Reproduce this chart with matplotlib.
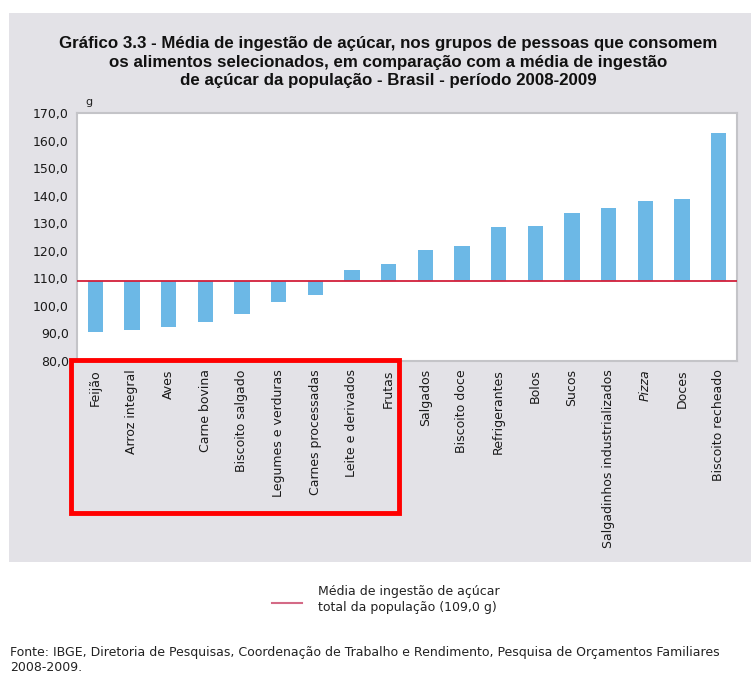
import matplotlib.pyplot as plt
from matplotlib.patches import Rectangle
from matplotlib.lines import Line2D

# dados
alimentos = ["Feijão", "Arroz integral", "Aves", "Carne bovina", "Biscoito salgado",
             "Legumes e verduras", "Carnes processadas", "Leite e derivados", "Frutas",
             "Salgados", "Biscoito doce", "Refrigerantes", "Bolos", "Sucos",
             "Salgadinhos industrializados", "Pizza", "Doces", "Biscoito recheado"]
ingestao = [90.6, 91.2, 92.2, 94.0, 96.9, 101.5, 103.8, 112.9, 115.3,
            120.4, 121.6, 128.5, 129.1, 133.7, 135.6, 137.9, 138.9, 162.7]
media_pop = 109.0
yticks = [80, 90, 100, 110, 120, 130, 140, 150, 160, 170]

W, H = 751, 674
fig = plt.figure(figsize=(W / 100, H / 100), dpi=100)
fig.patch.set_facecolor("white")

# painel cinza de fundo
fig.patches.append(Rectangle((9 / W, 1 - 562 / H), (W - 9) / W, (562 - 13) / H,
                             transform=fig.transFigure, facecolor="#e3e2e7",
                             edgecolor="none", zorder=-1))

ax = fig.add_axes([77 / W, 1 - 361 / H, (737 - 77) / W, (361 - 113) / H])
ax.set_zorder(2)
ax.set_facecolor("white")

x = range(len(alimentos))
alturas = [v - media_pop for v in ingestao]
ax.bar(x, alturas, bottom=media_pop, width=0.42, color="#6cb8e6", zorder=2)
ax.axhline(media_pop, color="#d2203a", lw=1.3, zorder=3)

ax.set_xlim(-0.5, len(alimentos) - 0.5)
ax.set_ylim(80, 170)
ax.set_yticks(yticks)
ax.set_yticklabels([f"{t},0" for t in yticks], fontsize=9, color="#1a1a1a")
ax.set_xticks(list(x))
ax.set_xticklabels(alimentos, rotation=90, fontsize=9, color="#1a1a1a",
                   va="top", ha="center")
for lbl in ax.get_xticklabels():
    if lbl.get_text() == "Pizza":
        lbl.set_style("italic")
ax.tick_params(axis="both", length=0, pad=6)
for s in ax.spines.values():
    s.set_color("#c4c4c8")
    s.set_linewidth(1.5)

ax.text(0.012, 1.025, "g", transform=ax.transAxes, fontsize=8, color="#222222",
        ha="left", va="bottom")

titulo = ("Gráfico 3.3 - Média de ingestão de açúcar, nos grupos de pessoas que consomem\n"
          "os alimentos selecionados, em comparação com a média de ingestão\n"
          "de açúcar da população - Brasil - período 2008-2009")
fig.text(388 / W, 1 - 62 / H, titulo, ha="center", va="center", fontsize=12.2,
         fontweight="bold", linespacing=1.33, color="#111111",
         family=["Liberation Sans Narrow", "Liberation Sans", "DejaVu Sans"])

# legenda
fig.add_artist(Line2D([272 / W, 302 / W], [1 - 603 / H, 1 - 603 / H],
                      transform=fig.transFigure, color="#d46a86", lw=1.5))
fig.text(318 / W, 1 - 600 / H, "Média de ingestão de açúcar\ntotal da população (109,0 g)",
         ha="left", va="center", fontsize=9, linespacing=1.3, color="#222222")

fig.text(10 / W, 1 - 660 / H,
         "Fonte: IBGE, Diretoria de Pesquisas, Coordenação de Trabalho e Rendimento, "
         "Pesquisa de Orçamentos Familiares\n2008-2009.",
         ha="left", va="center", fontsize=9, linespacing=1.15, color="#222222")

# destaque vermelho
fig.patches.append(Rectangle((71 / W, 1 - 513 / H), (399 - 71) / W, (513 - 360) / H,
                             transform=fig.transFigure, facecolor="none",
                             edgecolor="#ff0000", lw=3.5, zorder=10))

fig.savefig("out.png", dpi=100)
